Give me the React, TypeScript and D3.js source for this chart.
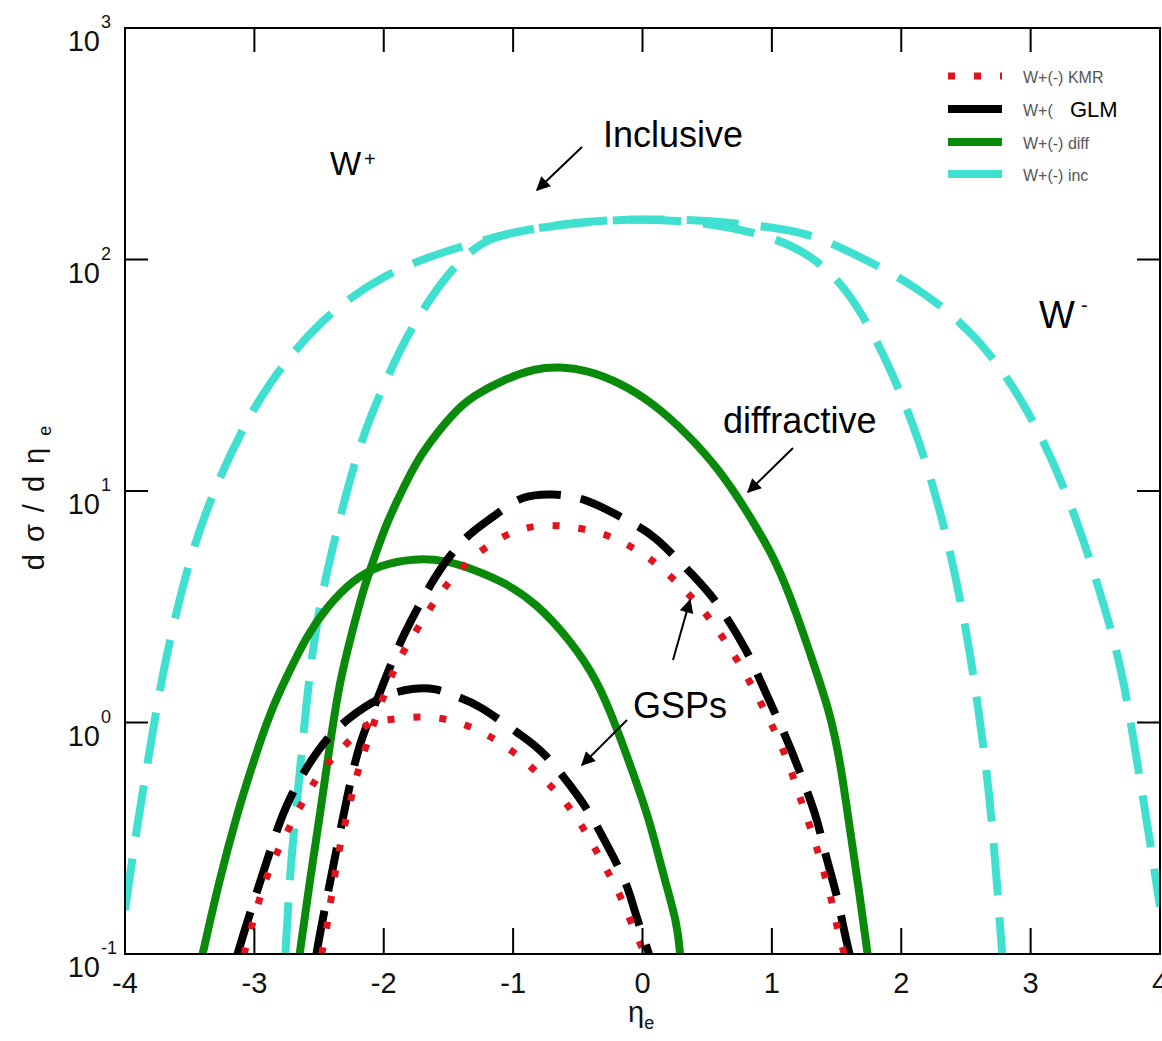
import React, { useEffect, useRef } from "react";
import * as d3 from "d3";

const W = 1162;
const H = 1041;

// inclusive (cyan dashed), W+ and W-
const incPlusEta = [-4.0, -3.9, -3.8, -3.7, -3.5, -3.3, -3.1, -2.9, -2.5, -2.0, -1.5, -1.0, -0.5, 0, 0.5, 1.0, 1.3, 1.6, 1.9, 2.15, 2.35, 2.5, 2.6, 2.68, 2.73, 2.78];
const incPlusVal = [0.155, 0.38, 0.81, 1.78, 5.25, 10.5, 18.2, 28.8, 55, 87, 110, 132, 146, 150, 145, 126, 105, 74, 36, 16.2, 6.6, 2.6, 1.12, 0.5, 0.24, 0.1];
const incMinusEta = [-2.76, -2.72, -2.66, -2.6, -2.52, -2.4, -2.2, -2.0, -1.8, -1.5, -1.25, -1.0, -0.5, 0, 0.5, 1.0, 1.3, 1.65, 2.1, 2.6, 3.0, 3.3, 3.5, 3.7, 3.8, 3.9, 4.0];
const incMinusVal = [0.1, 0.25, 0.52, 1.2, 2.8, 5.6, 15.5, 28.8, 50, 89, 120, 132, 145, 150, 148, 138, 129, 105, 78, 47, 22, 9.3, 4.3, 1.8, 0.81, 0.37, 0.16];

// diffractive (green solid)
const diffAEta = [-3.4, -3.27, -3.13, -3.01, -2.88, -2.75, -2.59, -2.44, -2.24, -2.03, -1.77, -1.51, -1.3, -1.08, -0.82, -0.56, -0.35, -0.2, -0.07, 0.06, 0.16, 0.27, 0.29];
const diffAVal = [0.1, 0.21, 0.41, 0.67, 1.1, 1.58, 2.4, 3.15, 4.13, 4.79, 5.13, 5.01, 4.57, 4.07, 3.28, 2.27, 1.53, 0.95, 0.6, 0.37, 0.22, 0.135, 0.1];
const diffBEta = [-2.65, -2.57, -2.49, -2.42, -2.34, -2.24, -2.16, -2.08, -1.98, -1.82, -1.72, -1.46, -1.3, -1.08, -0.82, -0.64, -0.43, -0.17, 0.08, 0.34, 0.6, 0.85, 1.04, 1.19, 1.32, 1.45, 1.53, 1.6, 1.68, 1.74];
const diffBVal = [0.1, 0.21, 0.41, 0.78, 1.53, 2.51, 3.73, 5.01, 7.28, 11.1, 14.3, 22.0, 25.9, 30.2, 34.0, 34.4, 33.3, 29.3, 24.0, 17.8, 12.3, 7.5, 4.89, 2.97, 1.81, 1.1, 0.67, 0.355, 0.178, 0.1];

// GLM (black dashed)
const glmAEta = [-3.13, -3.05, -2.86, -2.75, -2.5, -2.28, -2.0, -1.77, -1.6, -1.43, -1.27, -0.93, -0.77, -0.46, -0.34, -0.12, -0.07, 0.05];
const glmAVal = [0.1, 0.141, 0.3, 0.457, 0.794, 1.047, 1.32, 1.41, 1.41, 1.29, 1.2, 0.87, 0.76, 0.457, 0.347, 0.204, 0.158, 0.1];
const glmBEta = [-2.52, -2.49, -2.26, -2.18, -2.09, -2.0, -1.87, -1.59, -1.43, -1.33, -1.09, -0.93, -0.7, -0.43, -0.08, 0.07, 0.42, 0.58, 0.82, 0.91, 1.1, 1.18, 1.35, 1.39, 1.51, 1.55, 1.6];
const glmBVal = [0.1, 0.126, 0.562, 0.832, 1.11, 1.48, 2.29, 4.47, 5.75, 6.61, 8.22, 9.55, 9.77, 9.33, 7.24, 6.61, 4.17, 3.31, 2.0, 1.51, 0.89, 0.69, 0.39, 0.3, 0.174, 0.132, 0.1];

// KMR (red dotted)
const kmrAEta = [-3.08, -3.02, -2.93, -2.82, -2.55, -2.41, -2.21, -2.08, -2.0, -1.8, -1.6, -1.4, -1.19, -0.99, -0.79, -0.58, -0.42, -0.29, -0.16, -0.06, 0.02];
const kmrAVal = [0.1, 0.132, 0.2, 0.282, 0.553, 0.689, 0.902, 1.026, 1.02, 1.057, 1.057, 1.0, 0.883, 0.746, 0.593, 0.449, 0.324, 0.238, 0.175, 0.124, 0.1];
const kmrBEta = [-2.48, -2.45, -2.41, -2.34, -2.25, -2.2, -1.97, -1.88, -1.8, -1.57, -1.36, -1.16, -0.96, -0.75, -0.56, -0.35, -0.15, 0.05, 0.26, 0.46, 0.63, 0.79, 0.91, 1.04, 1.14, 1.22, 1.31, 1.39, 1.46, 1.51, 1.56];
const kmrBVal = [0.1, 0.12, 0.17, 0.3, 0.472, 0.635, 1.466, 1.9, 2.23, 3.66, 4.93, 6.03, 6.85, 7.19, 7.0, 6.71, 6.03, 5.19, 4.08, 3.13, 2.3, 1.65, 1.23, 0.883, 0.643, 0.468, 0.337, 0.238, 0.175, 0.124, 0.1];

const xTicks = [-4, -3, -2, -1, 0, 1, 2, 3, 4];
const yTicks = [0.1, 1, 10, 100, 1000];
const yExponents = ["-1", "0", "1", "2", "3"];

const legendLabels = ["W+(-) KMR", "W+(", "W+(-) diff", "W+(-) inc"];

const CYAN = "#40e0d0";
const GREEN = "#0a8a0a";
const RED = "#e0141e";

const FONT = "Liberation Sans, Arial, Helvetica, sans-serif";

export default function App() {
  const ref = useRef<SVGSVGElement>(null);

  useEffect(() => {
    const svg = d3.select(ref.current);
    svg.selectAll("*").remove();

    const x = d3.scaleLinear().domain([-4, 4]).range([125, 1160]);
    const y = d3.scaleLog().domain([0.1, 1000]).range([954, 28]);
    const [x0, x1] = x.range();
    const [y0, y1] = y.range();

    const defs = svg.append("defs");
    defs.append("clipPath").attr("id", "plotArea")
      .append("rect")
      .attr("x", x0).attr("y", y1)
      .attr("width", x1 - x0).attr("height", y0 - y1);
    defs.append("marker")
      .attr("id", "arrow")
      .attr("viewBox", "0 0 10 10")
      .attr("refX", 9).attr("refY", 5)
      .attr("markerWidth", 17).attr("markerHeight", 14)
      .attr("markerUnits", "userSpaceOnUse")
      .attr("orient", "auto")
      .append("path")
      .attr("d", "M0,0 L10,5 L0,10 z")
      .attr("fill", "#000");

    const line = d3.line<[number, number]>()
      .x(d => x(d[0]))
      .y(d => y(d[1]))
      .curve(d3.curveBasis);

    const series = [
      { eta: incPlusEta, val: incPlusVal, color: CYAN, width: 8, dash: "52 22" },
      { eta: incMinusEta, val: incMinusVal, color: CYAN, width: 8, dash: "52 22" },
      { eta: diffAEta, val: diffAVal, color: GREEN, width: 8, dash: null },
      { eta: diffBEta, val: diffBVal, color: GREEN, width: 8, dash: null },
      { eta: glmAEta, val: glmAVal, color: "#000", width: 8, dash: "44 20" },
      { eta: glmBEta, val: glmBVal, color: "#000", width: 8, dash: "44 20" },
      { eta: kmrAEta, val: kmrAVal, color: RED, width: 7, dash: "7 19" },
      { eta: kmrBEta, val: kmrBVal, color: RED, width: 7, dash: "7 19" }
    ];

    const plot = svg.append("g").attr("clip-path", "url(#plotArea)");
    series.forEach(s => {
      const pts = s.eta.map((e, i) => [e, s.val[i]] as [number, number]);
      plot.append("path")
        .attr("d", line(pts))
        .attr("fill", "none")
        .attr("stroke", s.color)
        .attr("stroke-width", s.width)
        .attr("stroke-linecap", "butt")
        .attr("stroke-dasharray", s.dash);
    });

    // frame
    svg.append("rect")
      .attr("x", x0).attr("y", y1)
      .attr("width", x1 - x0).attr("height", y0 - y1)
      .attr("fill", "none").attr("stroke", "#000").attr("stroke-width", 2);

    // ticks (inward, all four sides)
    const ticks = svg.append("g").attr("stroke", "#000").attr("stroke-width", 2);
    xTicks.forEach(t => {
      ticks.append("line").attr("x1", x(t)).attr("x2", x(t)).attr("y1", y0).attr("y2", y0 - 26);
      ticks.append("line").attr("x1", x(t)).attr("x2", x(t)).attr("y1", y1).attr("y2", y1 + 24);
    });
    yTicks.forEach(t => {
      ticks.append("line").attr("x1", x0).attr("x2", x0 + 23).attr("y1", y(t)).attr("y2", y(t));
      ticks.append("line").attr("x1", x1).attr("x2", x1 - 23).attr("y1", y(t)).attr("y2", y(t));
    });

    // tick labels
    const labels = svg.append("g").attr("font-family", FONT).attr("fill", "#111");
    xTicks.forEach(t => {
      labels.append("text")
        .attr("x", x(t)).attr("y", y0 + 39)
        .attr("text-anchor", "middle")
        .attr("font-size", 29)
        .text(String(t));
    });
    yTicks.forEach((t, i) => {
      labels.append("text")
        .attr("x", x0 - 25).attr("y", y(t) + 23)
        .attr("text-anchor", "end")
        .attr("font-size", 29)
        .text("10");
      labels.append("text")
        .attr("x", x0 - 24).attr("y", y(t))
        .attr("font-size", 18)
        .text(yExponents[i]);
    });

    // axis titles
    const yTitle = labels.append("text")
      .attr("transform", "translate(44,492) rotate(-90)")
      .attr("text-anchor", "middle")
      .attr("font-size", 29)
      .attr("letter-spacing", 12);
    yTitle.append("tspan").text("dσ/dη");
    yTitle.append("tspan").attr("font-size", 18).attr("dy", 7).text("e");

    const xTitle = labels.append("text")
      .attr("x", 628).attr("y", 1022)
      .attr("font-size", 29);
    xTitle.append("tspan").text("η");
    xTitle.append("tspan").attr("font-size", 18).attr("dy", 7).text("e");

    // legend
    const legendColors = [RED, "#000", GREEN, CYAN];
    const legendDash = ["7 19", null, null, null];
    const legendY = [76, 109, 142, 174];
    const legend = svg.append("g").attr("font-family", FONT);
    legendLabels.forEach((lab, i) => {
      legend.append("line")
        .attr("x1", 948).attr("x2", 1002)
        .attr("y1", legendY[i]).attr("y2", legendY[i])
        .attr("stroke", legendColors[i])
        .attr("stroke-width", i === 0 ? 7 : 8)
        .attr("stroke-dasharray", legendDash[i]);
      legend.append("text")
        .attr("x", 1023).attr("y", legendY[i] + 7)
        .attr("font-size", 16)
        .attr("fill", "#555")
        .text(lab);
    });
    legend.append("text")
      .attr("x", 1070).attr("y", 117)
      .attr("font-size", 22)
      .attr("fill", "#000")
      .text("GLM");

    // annotations
    const ann = svg.append("g").attr("font-family", FONT).attr("fill", "#000");
    ann.append("text").attr("x", 603).attr("y", 147).attr("font-size", 36).text("Inclusive");
    ann.append("text").attr("x", 723).attr("y", 433).attr("font-size", 36).text("diffractive");
    ann.append("text").attr("x", 633).attr("y", 718).attr("font-size", 36).text("GSPs");
    ann.append("text").attr("x", 330).attr("y", 175).attr("font-size", 33).text("W");
    ann.append("text").attr("x", 364).attr("y", 166).attr("font-size", 20).text("+");
    ann.append("text").attr("x", 1039).attr("y", 328).attr("font-size", 38).text("W");
    ann.append("text").attr("x", 1081).attr("y", 312).attr("font-size", 20).text("-");

    const arrows = [
      [582, 147, 537, 190],
      [793, 448, 748, 492],
      [673, 660, 690, 600],
      [627, 720, 582, 765]
    ];
    arrows.forEach(a => {
      svg.append("line")
        .attr("x1", a[0]).attr("y1", a[1])
        .attr("x2", a[2]).attr("y2", a[3])
        .attr("stroke", "#000").attr("stroke-width", 2)
        .attr("marker-end", "url(#arrow)");
    });
  }, []);

  return (
    <svg
      ref={ref}
      width={W}
      height={H}
      style={{ position: "absolute", left: 0, top: 0, background: "#fff" }}
    />
  );
}
